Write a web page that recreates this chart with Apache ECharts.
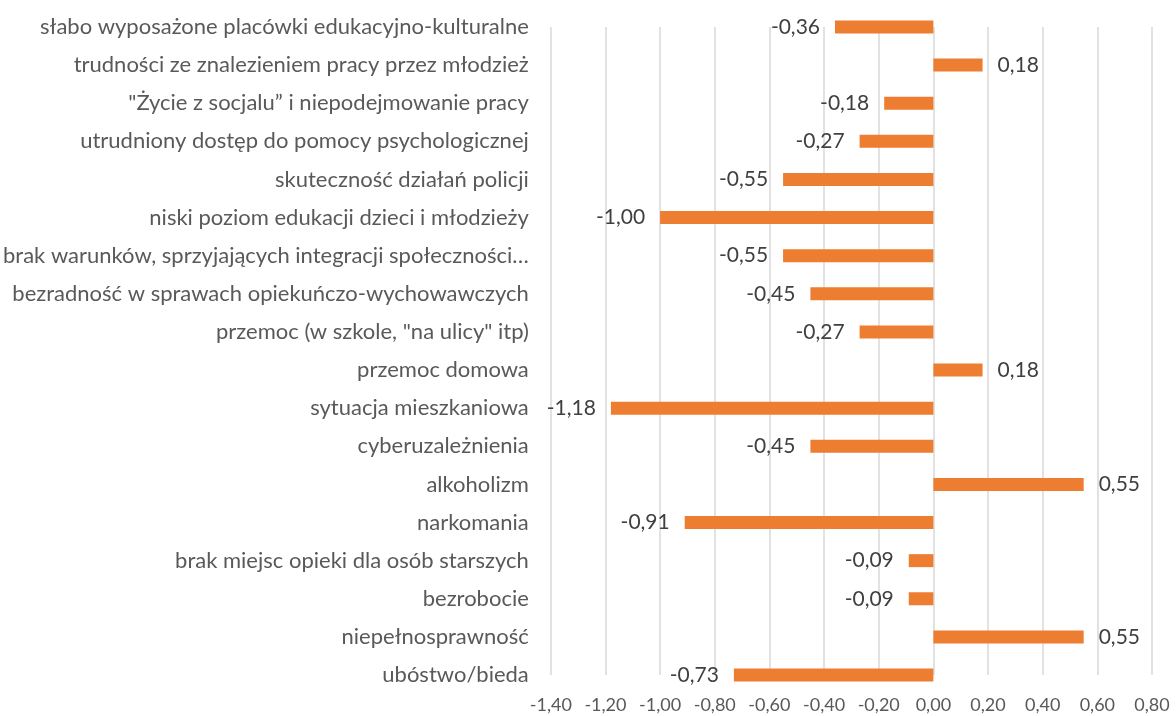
<!DOCTYPE html>
<html>
<head>
<meta charset="utf-8">
<script src="https://cdn.jsdelivr.net/npm/echarts@6/dist/echarts.min.js"></script>
<style>
  html, body { margin: 0; padding: 0; background: #fff; }
  #chart { width: 1176px; height: 716px; }
</style>
</head>
<body>
<div id="chart"></div>
<script>
// kategorie od góry do dołu
const categories = [
  'słabo wyposażone placówki edukacyjno-kulturalne',
  'trudności ze znalezieniem pracy przez młodzież',
  '"Życie z socjalu” i niepodejmowanie pracy',
  'utrudniony dostęp do pomocy psychologicznej',
  'skuteczność działań policji',
  'niski poziom edukacji dzieci i młodzieży',
  'brak warunków, sprzyjających integracji społeczności…',
  'bezradność w sprawach opiekuńczo-wychowawczych',
  'przemoc (w szkole, "na ulicy" itp)',
  'przemoc domowa',
  'sytuacja mieszkaniowa',
  'cyberuzależnienia',
  'alkoholizm',
  'narkomania',
  'brak miejsc opieki dla osób starszych',
  'bezrobocie',
  'niepełnosprawność',
  'ubóstwo/bieda'
];
const values = [-0.36, 0.18, -0.18, -0.27, -0.55, -1.00, -0.55, -0.45, -0.27, 0.18, -1.18, -0.45, 0.55, -0.91, -0.09, -0.09, 0.55, -0.73];
const axisMin = -1.4;
const axisMax = 0.8;
const axisStep = 0.2;

const fmt = v => v.toFixed(2).replace('.', ',');
const font = 'Lato, "Open Sans", sans-serif';

const chart = echarts.init(document.getElementById('chart'));

chart.setOption({
  animation: false,
  textStyle: { fontFamily: font },
  grid: { left: 550, right: 24, top: 27, bottom: 41 },
  xAxis: {
    type: 'value',
    min: axisMin,
    max: axisMax,
    interval: axisStep,
    axisLine: { show: false },
    axisTick: { show: false },
    splitLine: { lineStyle: { color: '#d9d9d9', width: 1.5 } },
    axisLabel: { color: '#595959', fontSize: 18, margin: 21, formatter: v => fmt(v) }
  },
  yAxis: {
    type: 'category',
    data: categories,
    inverse: true,
    boundaryGap: false,
    axisLine: { show: false, onZero: false },
    axisTick: { show: false },
    axisLabel: { color: '#595959', fontSize: 22, margin: 22 }
  },
  series: [{
    type: 'bar',
    barWidth: 13,
    clip: true,
    data: values.map(v => ({
      value: v,
      label: { position: v < 0 ? 'left' : 'right' }
    })),
    itemStyle: { color: '#ed7d31' },
    label: {
      show: true,
      distance: 15,
      color: '#404040',
      fontSize: 21,
      formatter: p => fmt(p.value)
    }
  }]
});
</script>
</body>
</html>
